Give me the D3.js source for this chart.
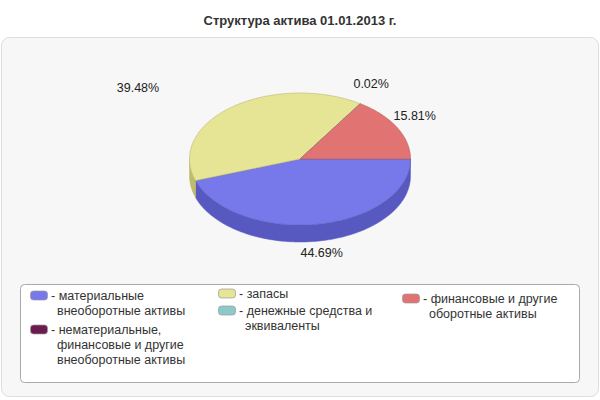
<!DOCTYPE html><html><head><meta charset="utf-8"><script src="https://cdn.jsdelivr.net/npm/d3@7"></script>
<style>body{margin:0;background:#fff}text{font-family:Arial,"Liberation Sans",sans-serif}</style></head><body>
<svg id="c" width="600" height="400"></svg>
<script>
const categories=["материальные внеоборотные активы","нематериальные, финансовые и другие внеоборотные активы","запасы","денежные средства и эквиваленты","финансовые и другие оборотные активы"];
const legendLines=[["материальные","внеоборотные активы"],["нематериальные,","финансовые и другие","внеоборотные активы"],["запасы"],["денежные средства и","эквиваленты"],["финансовые и другие","оборотные активы"]];
const values=[44.69,0,39.48,0.02,15.81];
const colors=["#7778ea","#6d1a50","#e6e495","#8ccac9","#e27373"];
const sideColors=["#5758c0","#50103a","#bdbb6e","#6aa5a4","#b85555"];
const svg=d3.select("#c");
svg.append("text").attr("x",300).attr("y",25).attr("text-anchor","middle").attr("font-size",13).attr("font-weight","bold").attr("fill","#333").text("Структура актива 01.01.2013 г.");
svg.append("rect").attr("x",1.5).attr("y",37.5).attr("width",597).attr("height",359).attr("rx",8).attr("fill","#f7f7f7").attr("stroke","#ddd");
const cx=300,cy=159,rx=110.5,ry=66,dep=17;
const pie=d3.pie().sort(null).startAngle(0).endAngle(2*Math.PI)(values);
const P=t=>[cx+rx*Math.cos(t),cy+ry*Math.sin(t)];
function arcPts(a,b,off){const n=Math.max(2,Math.ceil((b-a)/0.02));return d3.range(n+1).map(i=>{const t=a+(b-a)*i/n;const p=P(t);return [p[0],p[1]+off];});}
const g=svg.append("g");
pie.forEach((d,i)=>{const a=Math.max(d.startAngle,0),b=Math.min(d.endAngle,Math.PI);if(b<=a)return;
 const top=arcPts(a,b,0),bot=arcPts(a,b,dep).reverse();
 g.append("path").attr("d",d3.line()(top.concat(bot))+"Z").attr("fill",sideColors[i]).attr("stroke",sideColors[i]).attr("stroke-width",0.5);});
pie.forEach((d,i)=>{if(d.endAngle-d.startAngle<=0)return;
 const pts=[[cx,cy]].concat(arcPts(d.startAngle,d.endAngle,0));
 g.append("path").attr("d",d3.line()(pts)+"Z").attr("fill",colors[i]).attr("stroke",d3.color(colors[i]).darker(0.6)).attr("stroke-width",0.6);});
pie.forEach((d,i)=>{if(values[i]<=0)return;const m=(d.startAngle+d.endAngle)/2;const c=Math.cos(m),s=Math.sin(m);
 let x=cx+(rx+20)*c,y=s>0?cy+(ry+12)*s+dep+4:cy+(ry+24)*s+4;
 let anchor="middle";if(c<-0.3){anchor="end";x=cx+(rx+118)*c;}
 svg.append("text").attr("x",x).attr("y",y).attr("text-anchor",anchor).attr("font-size",12.5).attr("fill","#222").text(values[i].toFixed(2)+"%");});
svg.append("rect").attr("x",20.5).attr("y",284.5).attr("width",559).attr("height",98).attr("rx",4).attr("fill","#fff").attr("stroke","#aaa");
const pos=[[31,298],[31,332],[219,296],[219,313],[403,301]];
legendLines.forEach((ls,i)=>{const [x,y]=pos[i];
 svg.append("rect").attr("x",x-0.5).attr("y",y-7).attr("width",17).attr("height",9).attr("rx",3).attr("fill",colors[i]).attr("stroke","#999").attr("stroke-width",0.7);
 const t=svg.append("text").attr("x",x+22).attr("y",y+2).attr("font-size",12.5).attr("fill","#333");
 ls.forEach((l,j)=>t.append("tspan").attr("x",j?x+26:x+20).attr("dy",j?15:0).text(j?l:"- "+l));});
</script></body></html>
